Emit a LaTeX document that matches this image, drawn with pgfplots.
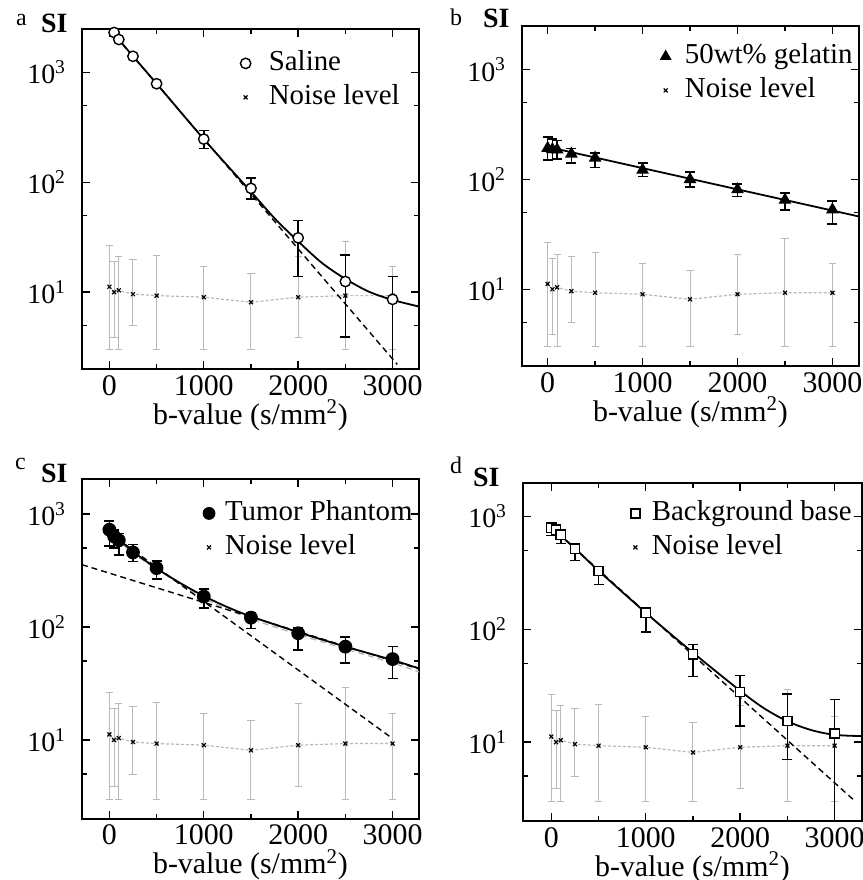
\documentclass[border=0pt]{standalone}
\usepackage{fontspec}
\setmainfont{Liberation Serif}
\usepackage{pgfplots}
\usepackage{pgfplotstable}
\pgfplotsset{compat=1.18}

\newcommand{\xtfont}{\fontsize{15}{17}\selectfont}
\newcommand{\ytfont}{\fontsize{14}{16}\selectfont}
\newcommand{\legfont}{\fontsize{14.5}{16}\selectfont}

% noise level, same in every panel: b, signal, error up, error down
\pgfplotstableread{
b s ep em
0 11.2 15.3 8.2
50 10.0 9.0 6.1
100 10.4 10.5 7.4
250 9.6 10.2 4.6
500 9.3 12.3 6.3
1000 9.0 8.0 6.0
1500 8.1 6.8 5.1
2000 9.0 11.9 5.1
2500 9.3 19.7 6.3
3000 9.3 7.7 6.3
}\noisetab

\pgfplotstableread{
b s
0 2500
50 2306
100 1990
250 1400
500 788
}\salinelow
\pgfplotstableread{
b s ep em
1000 247 48 44
1500 88 22 18
2000 31.2 13.8 17.3
2500 12.5 9.4 8.6
3000 8.6 5.3 7.6
}\salinehigh

\pgfplotstableread{
b s ep em
0 193 50 42
50 188 45 36
100 187 40 33
250 171 20 30
500 157 18 28
1000 122 20 16
1500 100 17 15
2000 81 10 11
2500 65 10.5 12
3000 53 11 13.5
}\gelatintab

\pgfplotstableread{
b s ep em
0 726 140 202
50 634 92 134
100 585 85 149
250 457 78 77
500 332 53 67
1000 186 32 38
1500 121 13 24
2000 88 11 25.5
2500 67 15 19
3000 52 15 17
}\tumortab

\pgfplotstableread{
b s ep em
0 794 38 116
50 762 30 60
100 689 30 116
250 516 26 109
500 328 28 79
1000 140 10 46
1500 60 13 22
2000 27.7 11.1 13.8
2500 15.4 11.4 8.4
3000 11.9 12 10.9
}\bgtab

\pgfplotsset{
  sinoise/.style={gray!55, dash pattern=on 1.5bp off 1bp, line width=0.6bp, forget plot,
    mark=x, mark size=1.4bp, mark options={black, solid, line width=0.6bp},
    error bars/y dir=both, error bars/y explicit,
    error bars/error bar style={gray!55, line width=0.5bp, solid},
    error bars/error mark options={rotate=90, gray!55, mark size=1.8bp, line width=0.5bp}},
  sidata/.style={only marks, forget plot, line width=0.7bp,
    error bars/y dir=both, error bars/y explicit,
    error bars/error bar style={black, line width=0.8bp},
    error bars/error mark options={rotate=90, black, mark size=2.5bp, line width=0.8bp}},
  sifit/.style={black, line width=0.9bp, forget plot},
  sidash/.style={black, line width=0.7bp, dash pattern=on 3bp off 2bp, forget plot},
}

\begin{document}
\begin{tikzpicture}
\useasboundingbox (0,0) rectangle (431.5bp,-440bp);

% (a) saline
\begin{axis}[ymode=log, scale only axis, width=168.5bp, height=170bp,
  name=pa, at={(41bp,-14.5bp)}, anchor=north west,
  xmin=-290, xmax=3280, ymin=2, ymax=2480,
  axis line style={line width=0.8bp}, tick style={black, line width=0.7bp},
  tick align=inside, major tick length=4bp, minor tick length=2.5bp,
  xtick={0,1000,2000,3000}, xticklabels={0,1000,2000,3000}, minor xtick={500,1500,2500},
  ytick={10,100,1000}, minor ytick={5,50,500},
  yticklabels={10\textsuperscript{1},10\textsuperscript{2},10\textsuperscript{3}},
  xticklabel style={font=\xtfont, anchor=base, inner sep=0pt, yshift=-13bp},
  yticklabel style={font=\ytfont, xshift=-4.5bp},
  xlabel={b-value (s/mm\textsuperscript{2})},
  xlabel style={font=\xtfont, inner sep=0pt, at={(axis description cs:0.5,0)}, anchor=base, yshift=-27.5bp},
  legend cell align=left,
  legend style={draw=none, fill=none, font=\legfont, inner sep=0pt, row sep=3bp,
    nodes={inner sep=0pt, text height=10.5bp, text depth=3.5bp},
    /tikz/every odd column/.append style={column sep=9bp},
    at={(rel axis cs:1,1)}, anchor=north east, xshift=-9.5bp, yshift=-10bp}]
\addlegendimage{only marks, mark=o, mark size=2.6bp, line width=0.7bp}
\addlegendentry{Saline}
\addlegendimage{only marks, mark=x, mark size=1.4bp, line width=0.6bp}
\addlegendentry{Noise level}
\addplot[sinoise] table[x=b, y=s, y error plus=ep, y error minus=em] {\noisetab};
\addplot[only marks, forget plot, line width=0.7bp, mark=*, mark size=2.6bp, mark options={fill=white, draw=black}]
  table[x=b, y=s] {\salinelow};
\addplot[sidata, mark=*, mark size=2.6bp, mark options={fill=white, draw=black}]
  table[x=b, y=s, y error plus=ep, y error minus=em] {\salinehigh};
\addplot[sidash] coordinates {(0,2490) (3050,2.2)};
\addplot[sifit, smooth] coordinates {(0,2490) (500,790) (1000,247) (1500,82) (1750,47) (2000,29) (2250,18.5) (2500,13.2) (2750,10.1) (3000,8.5) (3280,7.4)};
\end{axis}

% (b) gelatin
\begin{axis}[ymode=log, scale only axis, width=168.5bp, height=170bp,
  name=pb, at={(261bp,-13bp)}, anchor=north west,
  xmin=-270, xmax=3280, ymin=2, ymax=2500,
  axis line style={line width=0.8bp}, tick style={black, line width=0.7bp},
  tick align=inside, major tick length=4bp, minor tick length=2.5bp,
  xtick={0,1000,2000,3000}, xticklabels={0,1000,2000,3000}, minor xtick={500,1500,2500},
  ytick={10,100,1000}, minor ytick={5,50,500},
  yticklabels={10\textsuperscript{1},10\textsuperscript{2},10\textsuperscript{3}},
  xticklabel style={font=\xtfont, anchor=base, inner sep=0pt, yshift=-13bp},
  yticklabel style={font=\ytfont, xshift=-4.5bp},
  xlabel={b-value (s/mm\textsuperscript{2})},
  xlabel style={font=\xtfont, inner sep=0pt, at={(axis description cs:0.5,0)}, anchor=base, yshift=-27.5bp},
  legend cell align=left,
  legend style={draw=none, fill=none, font=\legfont, inner sep=0pt, row sep=3bp,
    nodes={inner sep=0pt, text height=10.5bp, text depth=3.5bp},
    /tikz/every odd column/.append style={column sep=7bp},
    at={(rel axis cs:1,1)}, anchor=north east, xshift=-3bp, yshift=-8bp}]
\addlegendimage{only marks, mark=triangle*, mark size=3bp}
\addlegendentry{50wt\symbol{37} gelatin}
\addlegendimage{only marks, mark=x, mark size=1.4bp, line width=0.6bp}
\addlegendentry{Noise level}
\addplot[sinoise] table[x=b, y=s, y error plus=ep, y error minus=em] {\noisetab};
\addplot[sidata, mark=triangle*, mark size=3bp, mark options={fill=black, draw=black}]
  table[x=b, y=s, y error plus=ep, y error minus=em] {\gelatintab};
\addplot[sifit] coordinates {(0,198) (3280,46)};
\end{axis}

% (c) tumor phantom
\begin{axis}[ymode=log, scale only axis, width=168.5bp, height=170bp,
  name=pc, at={(41bp,-239.5bp)}, anchor=north west,
  xmin=-290, xmax=3280, ymin=2, ymax=2040,
  axis line style={line width=0.8bp}, tick style={black, line width=0.7bp},
  tick align=inside, major tick length=4bp, minor tick length=2.5bp,
  xtick={0,1000,2000,3000}, xticklabels={0,1000,2000,3000}, minor xtick={500,1500,2500},
  ytick={10,100,1000}, minor ytick={5,50,500},
  yticklabels={10\textsuperscript{1},10\textsuperscript{2},10\textsuperscript{3}},
  xticklabel style={font=\xtfont, anchor=base, inner sep=0pt, yshift=-13bp},
  yticklabel style={font=\ytfont, xshift=-4.5bp},
  xlabel={b-value (s/mm\textsuperscript{2})},
  xlabel style={font=\xtfont, inner sep=0pt, at={(axis description cs:0.5,0)}, anchor=base, yshift=-27.5bp},
  legend cell align=left,
  legend style={draw=none, fill=none, font=\legfont, inner sep=0pt, row sep=3bp,
    nodes={inner sep=0pt, text height=10.5bp, text depth=3.5bp},
    /tikz/every odd column/.append style={column sep=5bp},
    at={(rel axis cs:1,1)}, anchor=north east, xshift=-3bp, yshift=-10bp}]
\addlegendimage{only marks, mark=*, mark size=3bp}
\addlegendentry{Tumor Phantom}
\addlegendimage{only marks, mark=x, mark size=1.4bp, line width=0.6bp}
\addlegendentry{Noise level}
\addplot[sinoise] table[x=b, y=s, y error plus=ep, y error minus=em] {\noisetab};
\addplot[sidata, mark=*, mark size=3.1bp, mark options={fill=black, draw=black}]
  table[x=b, y=s, y error plus=ep, y error minus=em] {\tumortab};
\addplot[gray!60, dash pattern=on 3bp off 2bp, line width=0.6bp, smooth, forget plot]
  coordinates {(0,700) (250,450) (500,325) (1000,180) (1500,118) (2000,86) (2500,64) (3000,48) (3280,40)};
\addplot[sidash] coordinates {(-290,356) (3280,42.5)};
\addplot[sidash] coordinates {(0,680) (3000,10.3)};
\addplot[sifit, smooth] coordinates {(0,720) (100,600) (250,465) (500,330) (750,245) (1000,188) (1250,150) (1500,124) (2000,90) (2500,67) (3000,51) (3280,43)};
\end{axis}

% (d) background base
\begin{axis}[ymode=log, scale only axis, width=169.5bp, height=169bp,
  name=pd, at={(261.5bp,-241.5bp)}, anchor=north west,
  xmin=-300, xmax=3290, ymin=2, ymax=1975,
  axis line style={line width=0.8bp}, tick style={black, line width=0.7bp},
  tick align=inside, major tick length=4bp, minor tick length=2.5bp,
  xtick={0,1000,2000,3000}, xticklabels={0,1000,2000,3000}, minor xtick={500,1500,2500},
  ytick={10,100,1000}, minor ytick={5,50,500},
  yticklabels={10\textsuperscript{1},10\textsuperscript{2},10\textsuperscript{3}},
  xticklabel style={font=\xtfont, anchor=base, inner sep=0pt, yshift=-13bp},
  yticklabel style={font=\ytfont, xshift=-4.5bp},
  xlabel={b-value (s/mm\textsuperscript{2})},
  xlabel style={font=\xtfont, inner sep=0pt, at={(axis description cs:0.5,0)}, anchor=base, yshift=-27.5bp},
  legend cell align=left,
  legend style={draw=none, fill=none, font=\legfont, inner sep=0pt, row sep=3bp,
    nodes={inner sep=0pt, text height=10.5bp, text depth=3.5bp},
    /tikz/every odd column/.append style={column sep=6bp},
    at={(rel axis cs:1,1)}, anchor=north east, xshift=-5bp, yshift=-8bp}]
\addlegendimage{only marks, mark=square, mark size=2.2bp, line width=0.7bp}
\addlegendentry{Background base}
\addlegendimage{only marks, mark=x, mark size=1.4bp, line width=0.6bp}
\addlegendentry{Noise level}
\addplot[sinoise] table[x=b, y=s, y error plus=ep, y error minus=em] {\noisetab};
\addplot[sidata, mark=square*, mark size=2.3bp, mark options={fill=white, draw=black}]
  table[x=b, y=s, y error plus=ep, y error minus=em] {\bgtab};
\addplot[sidash] coordinates {(0,800) (3215,3.0)};
\addplot[sifit, smooth] coordinates {(0,800) (250,520) (500,330) (1000,140) (1500,62) (2000,28.5) (2250,20) (2500,15.3) (2750,12.8) (3000,11.6) (3290,11.3)};
\end{axis}

% panel letters and axis titles
\node[anchor=base west, font=\fontsize{12}{13}\selectfont] at (4.5bp,-12.5bp) {a};
\node[anchor=base west, font=\fontsize{12}{13}\selectfont] at (221.5bp,-12.5bp) {b};
\node[anchor=base west, font=\fontsize{12}{13}\selectfont] at (4bp,-234.5bp) {c};
\node[anchor=base west, font=\fontsize{12}{13}\selectfont] at (221.5bp,-236.5bp) {d};
\node[anchor=base east, font=\fontsize{14}{15}\selectfont\bfseries, inner sep=0pt]
  at ([xshift=-7bp, yshift=-1.5bp]pa.north west) {SI};
\node[anchor=base east, font=\fontsize{14}{15}\selectfont\bfseries, inner sep=0pt]
  at ([xshift=-6bp, yshift=-0.5bp]pb.north west) {SI};
\node[anchor=base east, font=\fontsize{14}{15}\selectfont\bfseries, inner sep=0pt]
  at ([xshift=-7bp, yshift=-1.5bp]pc.north west) {SI};
\node[anchor=base east, font=\fontsize{14}{15}\selectfont\bfseries, inner sep=0pt]
  at ([xshift=-11.5bp, yshift=-1.5bp]pd.north west) {SI};
\end{tikzpicture}
\end{document}
